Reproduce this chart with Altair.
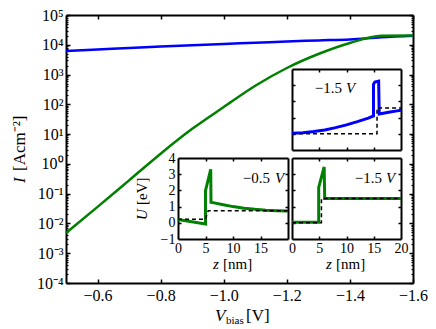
import altair as alt
import pandas as pd

# ---------------- data ----------------
v_bias = [-0.5, -0.6, -0.7, -0.8, -0.9, -1.0, -1.1, -1.2, -1.3, -1.4, -1.5, -1.6]
current_blue = [6.2e3, 6.9e3, 7.8e3, 8.7e3, 9.7e3, 1.07e4, 1.17e4, 1.29e4, 1.40e4, 1.51e4, 1.78e4, 2.0e4]
current_green = [4.8e-3, 3.6e-2, 2.8e-1, 2.2, 15.0, 81.0, 4.2e2, 1.66e3, 4.9e3, 1.15e4, 2.0e4, 2.04e4]

x_ticks = [-0.6, -0.8, -1.0, -1.2, -1.4, -1.6]
y_ticks = [1e-4, 1e-3, 1e-2, 1e-1, 1e0, 1e1, 1e2, 1e3, 1e4, 1e5]
y_tick_labels = ["10⁻⁴", "10⁻³", "10⁻²", "10⁻¹", "10⁰", "10¹", "10²", "10³", "10⁴", "10⁵"]
y_minor = [2e-4, 3e-4, 4e-4, 5e-4, 6e-4, 7e-4, 8e-4, 9e-4,
           2e-3, 3e-3, 4e-3, 5e-3, 6e-3, 7e-3, 8e-3, 9e-3,
           2e-2, 3e-2, 4e-2, 5e-2, 6e-2, 7e-2, 8e-2, 9e-2,
           2e-1, 3e-1, 4e-1, 5e-1, 6e-1, 7e-1, 8e-1, 9e-1,
           2, 3, 4, 5, 6, 7, 8, 9,
           20, 30, 40, 50, 60, 70, 80, 90,
           200, 300, 400, 500, 600, 700, 800, 900,
           2e3, 3e3, 4e3, 5e3, 6e3, 7e3, 8e3, 9e3,
           2e4, 3e4, 4e4, 5e4, 6e4, 7e4, 8e4, 9e4]

# inset (top): -1.5 V, blue
top_z = [0, 2, 4, 6, 8, 10, 12, 14, 14.95, 14.95, 15.2, 15.9, 16.0, 17, 18, 19, 20]
top_u = [0.03, 0.07, 0.14, 0.24, 0.38, 0.55, 0.75, 0.97, 1.1, 3.05, 3.2, 3.25, 1.22, 1.28, 1.34, 1.4, 1.45]
top_band_z = [0, 15.6, 15.6, 20]
top_band_u = [0.0, 0.0, 1.6, 1.6]

# inset (bottom left): -0.5 V, green
bl_z = [0, 5.0, 5.0, 5.95, 6.0, 7, 8, 10, 12, 14, 16, 18, 20]
bl_u = [0.21, -0.07, 1.98, 3.3, 1.27, 1.2, 1.13, 1.0, 0.9, 0.83, 0.78, 0.75, 0.73]
bl_band_z = [0, 5.0, 5.5, 20]
bl_band_u = [0.22, 0.22, 0.75, 0.75]

# inset (bottom right): -1.5 V, green
br_z = [0, 4.9, 4.9, 5.9, 6.0, 10, 15, 20]
br_u = [0.03, 0.03, 2.19, 3.45, 1.5, 1.5, 1.5, 1.5]
br_band_z = [0, 5.4, 5.4, 20]
br_band_u = [0.0, 0.0, 1.5, 1.5]

inset_x_labels = [0, 5, 10, 15, 20]
inset_y_labels = [-1, 0, 1, 2, 3, 4]

# ---------------- layout / style ----------------
W, H = 347, 268
FONT = "Liberation Serif"
BLUE = "#0000ff"
GREEN = "#008000"

main_df = pd.DataFrame({"V": v_bias, "blue": current_blue, "green": current_green})
xs = alt.Scale(domain=[-1.6, -0.5], reverse=True, nice=False, zero=False)
ys = alt.Scale(type="log", domain=[1e-4, 1e5], nice=False)

label_expr = ""
for v, lab in zip(y_ticks, y_tick_labels):
    label_expr += f"datum.value < {v * 3.1:.6g} ? '{lab}' : "
label_expr += "''"

common = dict(grid=False, title=None, labelFlush=False, labelOverlap=False,
              labelFont=FONT, labelColor="black", tickColor="black", domainColor="black")


def ax(**kw):
    d = dict(common)
    d.update(kw)
    return alt.Axis(**d)


def tick_axis(orient, offset, values, size, width=1.5):
    return ax(orient=orient, offset=offset, values=values, labels=False, ticks=True,
              tickSize=size, tickWidth=width, domain=False)


layers = []

# main: labelled axes + blue
layers.append(
    alt.Chart(main_df).mark_line(color=BLUE, strokeWidth=2.5, interpolate="monotone").encode(
        x=alt.X("V:Q", scale=xs, axis=ax(orient="bottom", values=x_ticks, format=".1f", ticks=False,
                                         domain=True, domainWidth=2, labelFontSize=16, labelPadding=4)),
        y=alt.Y("blue:Q", scale=ys, axis=ax(orient="left", values=y_ticks, labelExpr=label_expr, ticks=False,
                                            domain=True, domainWidth=2, labelFontSize=16, labelPadding=3)),
    )
)
# main: green, inward ticks on bottom and left edges
layers.append(
    alt.Chart(main_df).mark_line(color=GREEN, strokeWidth=2.5, interpolate="monotone").encode(
        x=alt.X("V:Q", scale=xs, axis=tick_axis("top", -H, x_ticks, 4)),
        y=alt.Y("green:Q", scale=ys, axis=tick_axis("right", -W, y_ticks, 4)),
    )
)
# frame top / right with inward ticks
layers.append(
    alt.Chart(main_df).mark_line(opacity=0).encode(
        x=alt.X("V:Q", scale=xs, axis=ax(orient="bottom", offset=-H, values=x_ticks, labels=False, ticks=True,
                                         tickSize=4, tickWidth=1.5, domain=True, domainWidth=2)),
        y=alt.Y("green:Q", scale=ys, axis=ax(orient="left", offset=-W, values=y_ticks, labels=False, ticks=True,
                                             tickSize=4, tickWidth=1.5, domain=True, domainWidth=2)),
    )
)
# minor log ticks, left and right edges
layers.append(
    alt.Chart(main_df).mark_line(opacity=0).encode(
        x=alt.X("V:Q", scale=xs, axis=None),
        y=alt.Y("green:Q", scale=ys, axis=tick_axis("right", -W, y_minor, 2, 1.2)),
    )
)
layers.append(
    alt.Chart(main_df).mark_line(opacity=0).encode(
        x=alt.X("V:Q", scale=xs, axis=None),
        y=alt.Y("green:Q", scale=ys, axis=tick_axis("left", -W, y_minor, 2, 1.2)),
    )
)


def inset(z, u, bz, bu, color, box, show_x, show_y):
    x0, x1, yt, yb = box
    xsc = alt.Scale(domain=[0, 20], range=[x0, x1], nice=False, zero=False)
    ysc = alt.Scale(domain=[-1, 4], range=[yb, yt], nice=False, zero=False)
    cdf = pd.DataFrame({"z": z, "u": u, "i": list(range(len(z)))})
    bdf = pd.DataFrame({"z": bz, "u": bu, "i": list(range(len(bz)))})
    out = []
    out.append(
        alt.Chart(cdf).mark_line(color=color, strokeWidth=3).encode(
            x=alt.X("z:Q", scale=xsc, axis=ax(orient="bottom", offset=yb - H, values=show_x if show_x else [0],
                                              labels=bool(show_x), ticks=False, domain=True, domainWidth=2,
                                              labelFontSize=14, labelPadding=2)),
            y=alt.Y("u:Q", scale=ysc, axis=ax(orient="left", offset=-x0, values=show_y if show_y else [0],
                                              labels=bool(show_y), ticks=False, domain=True, domainWidth=2,
                                              labelFontSize=14, labelPadding=3)),
            order="i:Q",
        )
    )
    out.append(
        alt.Chart(bdf).mark_line(color="black", strokeWidth=1.5, strokeDash=[4, 3]).encode(
            x=alt.X("z:Q", scale=xsc, axis=tick_axis("top", -yb, [5, 10, 15], 3)),
            y=alt.Y("u:Q", scale=ysc, axis=tick_axis("right", x0 - W, [0, 1, 2, 3], 3)),
            order="i:Q",
        )
    )
    out.append(
        alt.Chart(bdf).mark_line(opacity=0).encode(
            x=alt.X("z:Q", scale=xsc, axis=ax(orient="bottom", offset=yt - H, values=[5, 10, 15], labels=False,
                                              ticks=True, tickSize=3, tickWidth=1.5, domain=True, domainWidth=2)),
            y=alt.Y("u:Q", scale=ysc, axis=ax(orient="left", offset=-x1, values=[0, 1, 2, 3], labels=False,
                                              ticks=True, tickSize=3, tickWidth=1.5, domain=True, domainWidth=2)),
            order="i:Q",
        )
    )
    return out


layers += inset(top_z, top_u, top_band_z, top_band_u, BLUE, (226, 335, 54, 135), None, None)
layers += inset(bl_z, bl_u, bl_band_z, bl_band_u, GREEN, (112, 222, 143, 224), inset_x_labels[:4], inset_y_labels)
layers += inset(br_z, br_u, br_band_z, br_band_u, GREEN, (226, 335, 143, 224), inset_x_labels, None)

one = pd.DataFrame({"k": [0]})


def txt(s, x, y, size, style="normal", angle=0, align="left"):
    return alt.Chart(one).mark_text(text=s, font=FONT, fontSize=size, fontStyle=style, angle=angle,
                                    align=align, baseline="alphabetic", color="black").encode(
        x=alt.value(x), y=alt.value(y))


# inset voltage annotations
layers += [
    txt("−0.5", 204, 168, 15, align="right"), txt("V", 209, 168, 15, "italic"),
    txt("−1.5", 316, 168, 15, align="right"), txt("V", 320, 168, 15, "italic"),
    txt("−1.5", 276, 78, 15, align="right"), txt("V", 280, 78, 15, "italic"),
]
# inset axis titles
layers += [
    txt("z", 147, 254, 15, "italic"), txt("[nm]", 157, 254, 15),
    txt("z", 260, 254, 15, "italic"), txt("[nm]", 270, 254, 15),
    txt("U", 81, 205, 15, "italic", angle=270), txt("[eV]", 81, 190, 15, angle=270),
]
# main axis titles
layers += [
    txt("I", -41, 168, 17, "italic", angle=270), txt("[Acm⁻²]", -41, 156, 17, angle=270),
    txt("V", 149, 306, 17, "italic"), txt("bias", 160, 309, 11), txt("[V]", 180, 306, 17),
]

chart = (
    alt.layer(*layers)
    .resolve_scale(x="independent", y="independent")
    .resolve_axis(x="independent", y="independent")
    .properties(width=W, height=H, autosize=alt.AutoSizeParams(type="none"),
                padding={"left": 58, "top": 7, "right": 15, "bottom": 44}, background="white")
    .configure_view(stroke=None)
)

chart.save("out.html", embed_options={"renderer": "svg", "actions": False})
